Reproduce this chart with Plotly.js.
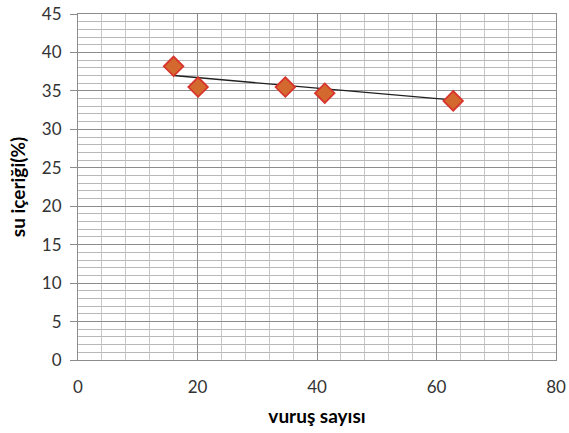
<!DOCTYPE html>
<html><head><meta charset="utf-8">
<script src="https://cdn.plot.ly/plotly-3.0.1.min.js"></script>
<style>html,body{margin:0;padding:0;background:#fff}#c{width:569px;height:433px}</style>
</head><body><div id="c"></div>
<script>
var vurus = [16, 20.1, 34.7, 41.3, 62.8];
var suIcerigi = [38.2, 35.5, 35.5, 34.7, 33.7];
var trendX = [16, 63];
var trendY = [37.0, 33.8];
var xTitle = 'vuruş sayısı';
var yTitle = 'su içeriği(%)';

var fontFam = 'Lato, "Open Sans", sans-serif';
var data = [
  {x: trendX, y: trendY, mode: 'lines', line: {color: '#202020', width: 1.3}, hoverinfo: 'skip', showlegend: false},
  {x: vurus, y: suIcerigi, mode: 'markers', showlegend: false,
   marker: {symbol: 'diamond', size: 15, color: '#D4692F', line: {color: '#D8342C', width: 1.8}}}
];
var layout = {
  width: 569, height: 433,
  margin: {l: 78, r: 13, t: 14, b: 73},
  paper_bgcolor: '#fff', plot_bgcolor: '#fff',
  font: {family: fontFam, size: 17, color: '#333'},
  xaxis: {
    range: [0, 80], dtick: 20, tick0: 0, showgrid: true, gridcolor: '#8c8c8c', gridwidth: 1,
    minor: {dtick: 4, showgrid: true, gridcolor: '#c8c8c8', gridwidth: 1},
    showline: true, linecolor: '#8c8c8c', mirror: true, zeroline: false,
    ticks: '', ticklabelstandoff: 12,
    title: {text: xTitle, font: {family: fontFam, size: 19, color: '#000', weight: 'bold'}, standoff: 13},
    tickfont: {size: 17, color: '#333'}
  },
  yaxis: {
    range: [0, 45], dtick: 5, tick0: 0, showgrid: true, gridcolor: '#8c8c8c', gridwidth: 1,
    minor: {dtick: 1, showgrid: true, gridcolor: '#b8b8b8', gridwidth: 1},
    showline: true, linecolor: '#8c8c8c', mirror: true, zeroline: false,
    ticks: 'outside', ticklen: 7, tickcolor: '#8c8c8c', ticklabelstandoff: 5,
    title: {text: yTitle, font: {family: fontFam, size: 19, color: '#000', weight: 'bold'}, standoff: 11},
    tickfont: {size: 17, color: '#333'}
  }
};
Plotly.newPlot('c', data, layout, {displayModeBar: false, staticPlot: true});
</script></body></html>
